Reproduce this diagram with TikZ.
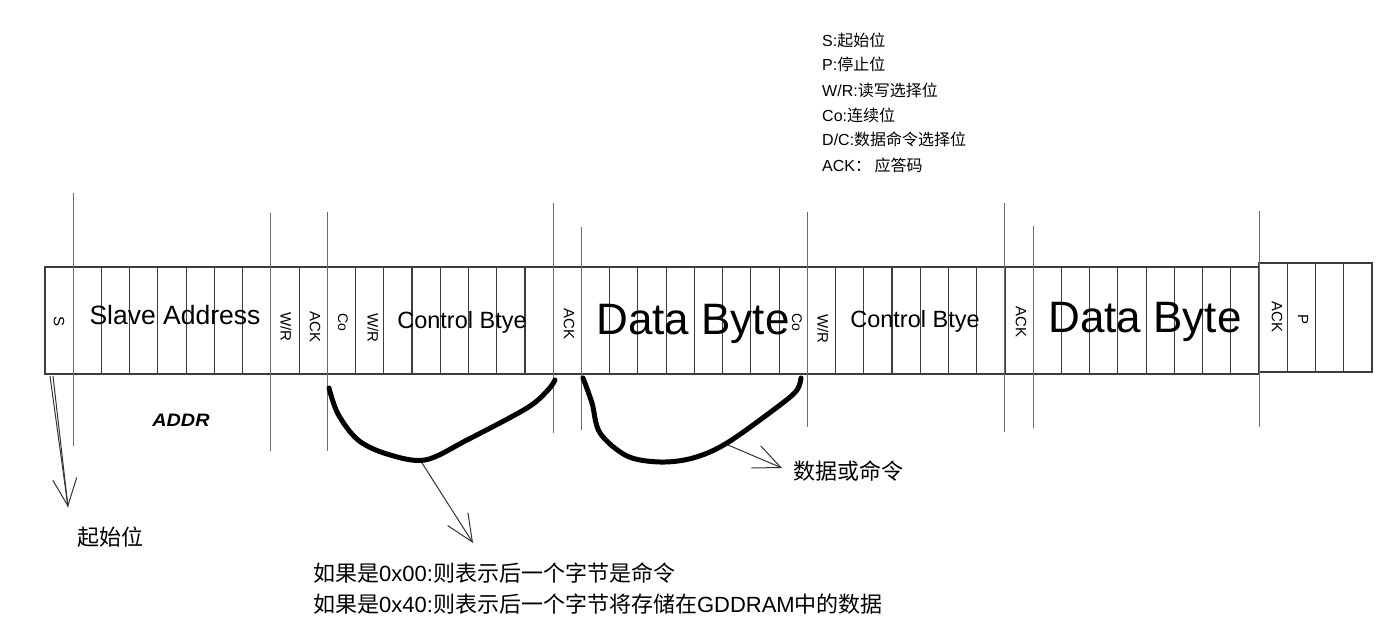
\documentclass[tikz,border=0pt]{standalone}
\usepackage{fontspec}
\setmainfont{Liberation Sans}
\newfontfamily\cjk{Noto Sans CJK SC}
\usetikzlibrary{arrows.meta}
\definecolor{cellline}{HTML}{3C3C3C}
\definecolor{tallline}{HTML}{6A6A6A}
\tikzset{
  cell/.style={draw=cellline, line width=1.1pt},
  tall/.style={draw=tallline, line width=1pt},
  bitlbl/.style={font=\fontsize{15}{15}\selectfont, rotate=-90, inner sep=0pt},
  bigtxt/.style={anchor=base, inner sep=0pt},
  legend/.style={anchor=west, inner sep=0pt, font=\fontsize{16}{18}\selectfont},
  note/.style={anchor=west, inner sep=0pt, font=\fontsize{22}{24}\selectfont},
  hand/.style={line width=5pt, line cap=round, line join=round, black},
  pointer/.style={draw=black!80, line width=1pt, -{Straight Barb[length=27pt, width=24pt]}},
}
\begin{document}
\begin{tikzpicture}[x=1pt,y=-1pt]
\useasboundingbox (0,0) rectangle (1398,636);
\def\cw{28.234}
% ---- bit row ----
\draw[cell] (45,267) rectangle (1259,374);
\foreach \i in {1,...,42} \draw[cell] ({45+\i*\cw},267) -- ({45+\i*\cw},374);
\draw[cell] (1259,263) rectangle (1372,372);
\foreach \i in {44,45,46} \draw[cell] ({45+\i*\cw},263) -- ({45+\i*\cw},372);
% ---- long separator lines ----
\foreach \i/\t/\b in {1/193/446, 8/213/451, 10/212/451, 18/203/433, 19/227/430,
                      27/212/427, 34/203/432, 35/226/428, 43/211/427}
  \draw[tall] ({45+\i*\cw},\t) -- ({45+\i*\cw},\b);
% ---- bit labels ----
\node[bitlbl] (s)    at (59,322)   {S};
\node[bitlbl] (wr1)  at (286,327)  {W/R};
\node[bitlbl] (ack1) at (315,327)  {ACK};
\node[bitlbl,font=\fontsize{14}{14}\selectfont] (co1) at (343,322) {Co};
\node[bitlbl] (wr2)  at (373,328)  {W/R};
\node[bitlbl] (ack2) at (569,324)  {ACK};
\node[bitlbl,font=\fontsize{14}{14}\selectfont] (co2) at (797,322) {Co};
\node[bitlbl] (wr3)  at (823,329)  {W/R};
\node[bitlbl] (ack3) at (1021,322) {ACK};
\node[bitlbl] (ack4) at (1277,317) {ACK};
\node[bitlbl] (p)    at (1303,320) {P};
% ---- field names ----
\node[bigtxt,font=\fontsize{26.5}{28}\selectfont] (sa)  at (175,325)  {Slave Address};
\node[bigtxt,font=\fontsize{23.5}{26}\selectfont] (cb1) at (462,329)  {Control Btye};
\node[bigtxt,font=\fontsize{44}{46}\selectfont]   (db1) at (693,335)  {Data Byte};
\node[bigtxt,font=\fontsize{23.5}{26}\selectfont] (cb2) at (915,328)  {Control Btye};
\node[bigtxt,font=\fontsize{44}{46}\selectfont]   (db2) at (1145,333) {Data Byte};
\node[font=\fontsize{18}{18}\selectfont\bfseries\itshape, inner sep=0pt, xscale=1.1] (addr) at (181,420) {ADDR};
% ---- legend ----
\node[legend] (l1) at (822,40)  {S:{\cjk 起始位}};
\node[legend] (l2) at (822,64)  {P:{\cjk 停止位}};
\node[legend] (l3) at (822,90)  {W/R:{\cjk 读写选择位}};
\node[legend] (l4) at (822,115) {Co:{\cjk 连续位}};
\node[legend] (l5) at (822,139) {D/C:{\cjk 数据命令选择位}};
\node[legend] (l6) at (822,165) {ACK{\cjk ： 应答码}};
% ---- notes ----
\node[note] (start) at (77,537) {\cjk 起始位};
\node[note] (dc)    at (793,471) {\cjk 数据或命令};
\node[note] (n1)    at (313,573) {{\cjk 如果是}0x00:{\cjk 则表示后一个字节是命令}};
\node[note] (n2)    at (313,604) {{\cjk 如果是}0x40:{\cjk 则表示后一个字节将存储在}GDDRAM{\cjk 中的数据}};
% ---- hand-drawn braces ----
\draw[hand] plot[smooth, tension=0.55] coordinates {(329,388) (338,414) (358,440) (387,454) (425,460) (467,440) (527,408) (548,390) (555,380)};
\draw[hand] plot[smooth, tension=0.55] coordinates {(583,378) (592,403) (600,433) (627,456) (660,462) (693,458) (727,443) (780,405) (797,390) (801,378)};
% ---- pointers ----
\coordinate (sa0) at (50,376);
\coordinate (sa1) at (53,376);
\coordinate (st)  at (68,507);
\draw[draw=black!80, line width=1pt] (sa0) -- (st);
\draw[pointer] (sa1) -- (st);
\coordinate (c1) at (422,463);
\coordinate (c1t) at (473,543);
\draw[pointer] (c1) -- (c1t);
\coordinate (c2) at (728,445);
\coordinate (c2t) at (782,468);
\draw[pointer] (c2) -- (c2t);
\end{tikzpicture}
\end{document}
